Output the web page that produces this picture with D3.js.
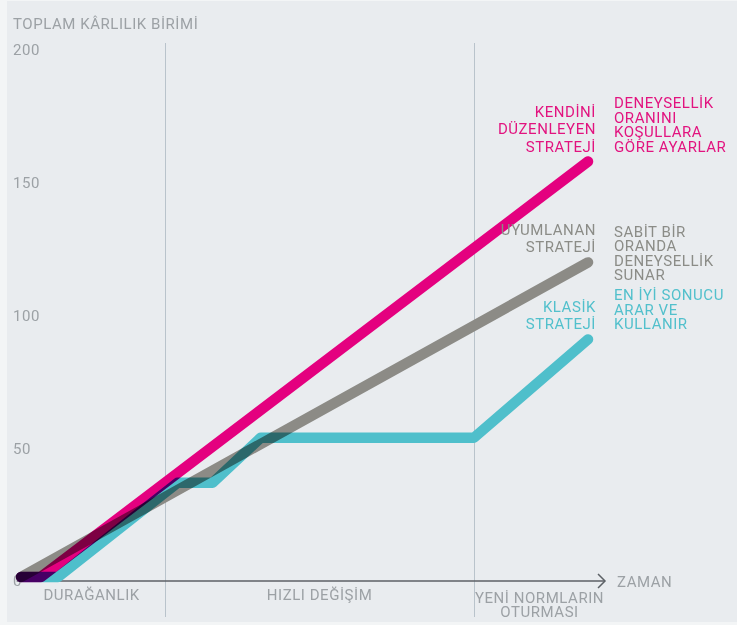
<!DOCTYPE html>
<html>
<head>
<meta charset="utf-8">
<script src="https://cdn.jsdelivr.net/npm/d3@7"></script>
<style>
  body { margin: 0; background: #f3f5f6; }
  svg { display: block; font-family: Roboto, "Open Sans", sans-serif; letter-spacing: 0.55px; }
  .line { fill: none; stroke-width: 10.5; stroke-linecap: round; stroke-linejoin: round; mix-blend-mode: multiply; }
  .tick-label, .title, .phase, .zaman { fill: #9ca1a5; font-size: 15px; }
</style>
</head>
<body>
<div id="chart"></div>
<script>
// values (time in arbitrary units 0..100, profit units 0..200)
var yTicks = [0, 50, 100, 150, 200];
var phaseNames = [["DURAĞANLIK"], ["HIZLI DEĞİŞİM"], ["YENİ NORMLARIN", "OTURMASI"]];
var phaseBounds = [-0.5, 25.4, 79.9, 103];

var klasikTime = [0, 6.5, 27.6, 33.8, 42.3, 79.9, 100];
var klasikValue = [1.5, 1.5, 37, 37, 54, 54, 91];
var uyumTime = [0, 100];
var uyumValue = [1.5, 120];
var kendiniTime = [0, 3.5, 100];
var kendiniValue = [1.5, 1.5, 158];

var leftLabels = [["KLASİK", "STRATEJİ"], ["UYUMLANAN", "STRATEJİ"], ["KENDİNİ", "DÜZENLEYEN", "STRATEJİ"]];
var rightLabels = [["EN İYİ SONUCU", "ARAR VE", "KULLANIR"],
                   ["SABİT BİR", "ORANDA", "DENEYSELLİK", "SUNAR"],
                   ["DENEYSELLİK", "ORANINI", "KOŞULLARA", "GÖRE AYARLAR"]];

// styling
var strokeColors = ["#4fbfcb", "#8c8b86", "#e4007f"];
var textColors = ["#52c0cc", "#8b8c87", "#e2137f"];
var rightShift = [0, 28, 0];

var svgWidth = 737, svgHeight = 625;

var svg = d3.select("#chart").append("svg")
    .attr("width", svgWidth)
    .attr("height", svgHeight);

svg.append("rect")
    .attr("x", 7).attr("y", 1)
    .attr("width", svgWidth - 7).attr("height", 621)
    .attr("fill", "#e9ecef");

var x = d3.scaleLinear().domain([0, 100]).range([21, 588]);
var y = d3.scaleLinear().domain([0, 200]).range([581, 50]);

svg.append("text")
    .attr("class", "title")
    .attr("x", 13).attr("y", 29)
    .text("TOPLAM KÂRLILIK BİRİMİ");

// phase separators
svg.selectAll("line.sep").data(phaseBounds.slice(1, 3)).enter().append("line")
    .attr("class", "sep")
    .attr("x1", function(d) { return Math.round(x(d)) + 0.5; })
    .attr("x2", function(d) { return Math.round(x(d)) + 0.5; })
    .attr("y1", 43).attr("y2", 617)
    .attr("stroke", "#b9c3cb")
    .attr("stroke-width", 1);

// y tick labels
var yAxis = svg.append("g")
    .attr("transform", "translate(13,0)")
    .call(d3.axisLeft(y).tickValues(yTicks).tickSize(0));
yAxis.select(".domain").remove();
yAxis.selectAll("text")
    .attr("class", "tick-label")
    .attr("x", 0)
    .attr("fill", null)
    .style("font-size", "15px")
    .style("font-family", "Roboto, sans-serif")
    .attr("text-anchor", "start");

// x axis with arrow
var axisEnd = x(phaseBounds[3]);
svg.append("line")
    .attr("x1", x(phaseBounds[0]) - 1.5).attr("x2", axisEnd)
    .attr("y1", y(0)).attr("y2", y(0))
    .attr("stroke", "#5c6166").attr("stroke-width", 1.5);
svg.append("path")
    .attr("d", "M" + (axisEnd - 7) + "," + (y(0) - 7) + "L" + axisEnd + "," + y(0) + "L" + (axisEnd - 7) + "," + (y(0) + 7))
    .attr("fill", "none").attr("stroke", "#5c6166").attr("stroke-width", 1.5);
svg.append("text")
    .attr("class", "zaman")
    .attr("x", axisEnd + 12).attr("y", y(0) + 6)
    .text("ZAMAN");

// phase labels
phaseNames.forEach(function(lines, i) {
    var cx = (x(phaseBounds[i]) + x(phaseBounds[i + 1])) / 2;
    var t = svg.append("text").attr("class", "phase").attr("text-anchor", "middle");
    var base = lines.length > 1 ? 603 : 600;
    lines.forEach(function(s, j) {
        t.append("tspan").attr("x", cx).attr("y", base + j * 14).text(s);
    });
});

// strategy lines
function zip(a, b) { return a.map(function(v, i) { return [v, b[i]]; }); }
var series = [
    zip(klasikTime, klasikValue),
    zip(uyumTime, uyumValue),
    zip(kendiniTime, kendiniValue)
];

var line = d3.line().x(function(d) { return x(d[0]); }).y(function(d) { return y(d[1]); });

var lineGroup = svg.append("g").style("isolation", "isolate");
[1, 2, 0].forEach(function(i) {
    lineGroup.append("path")
        .attr("class", "line")
        .attr("stroke", strokeColors[i])
        .attr("d", line(series[i]));
});

// labels at the line ends
series.forEach(function(pts, i) {
    var end = pts[pts.length - 1];
    var ex = x(end[0]), ey = y(end[1]);
    var lastBase = ey - 10;

    var left = svg.append("text")
        .attr("text-anchor", "end")
        .attr("fill", textColors[i])
        .style("font-size", "15px");
    leftLabels[i].forEach(function(s, j) {
        left.append("tspan")
            .attr("x", ex + 8)
            .attr("y", lastBase - (leftLabels[i].length - 1 - j) * 17.5)
            .text(s);
    });

    var right = svg.append("text")
        .attr("fill", textColors[i])
        .style("font-size", "15px");
    var rBase = lastBase + rightShift[i];
    rightLabels[i].forEach(function(s, j) {
        right.append("tspan")
            .attr("x", ex + 26)
            .attr("y", rBase - (rightLabels[i].length - 1 - j) * 14.5)
            .text(s);
    });
});
</script>
</body>
</html>
